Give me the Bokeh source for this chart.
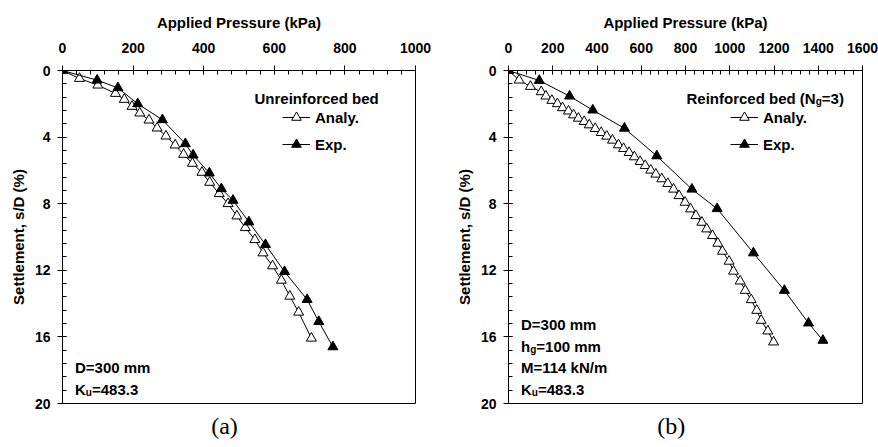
from bokeh.plotting import figure
from bokeh.layouts import row
from bokeh.models import Range1d, SingleIntervalTicker, Legend, LegendItem, Label, Title
from bokeh.embed import file_html
from bokeh.resources import INLINE

# ---------------- data ----------------
# (a) Unreinforced bed
a_anal_p = [0, 48, 100, 150, 175, 197, 219, 245, 268, 293, 319, 343, 368, 395, 417,
            444, 469, 494, 518, 545, 568, 595, 620, 644, 669, 705]
a_anal_s = [0, 0.48, 0.88, 1.38, 1.74, 2.16, 2.56, 2.98, 3.46, 3.94, 4.48, 5.04, 5.58,
            6.12, 6.72, 7.40, 8.00, 8.74, 9.44, 10.16, 10.96, 11.74, 12.60, 13.56, 14.52, 16.08]
a_exp_p = [0, 98, 157, 213, 283, 348, 370, 416, 450, 483, 528, 575, 629, 693, 726, 766]
a_exp_s = [0, 0.58, 1.04, 2.0, 2.96, 4.4, 5.08, 6.16, 7.1, 7.8, 9.1, 10.46, 12.08, 13.76, 15.08, 16.6]

# (b) Reinforced bed (Ng=3)
b_anal_p = [0, 48, 99, 148, 169, 196, 221, 244, 271, 294, 316, 342, 365, 392, 419, 444,
            470, 497, 520, 545, 569, 595, 618, 643, 666, 693, 720, 746, 771, 798, 823,
            847, 874, 896, 922, 946, 967, 997, 1017, 1047, 1070, 1097, 1122, 1142, 1172, 1198]
b_anal_s = [0, 0.58, 0.96, 1.28, 1.54, 1.80, 2.00, 2.24, 2.44, 2.67, 2.87, 3.07, 3.27, 3.49,
            3.73, 3.95, 4.19, 4.47, 4.69, 4.93, 5.19, 5.47, 5.71, 5.99, 6.23, 6.51, 6.79,
            7.13, 7.52, 7.92, 8.32, 8.72, 9.12, 9.52, 9.92, 10.38, 10.86, 11.46, 12.06,
            12.65, 13.21, 13.77, 14.41, 15.01, 15.65, 16.31]
b_exp_p = [0, 139, 276, 381, 524, 670, 829, 943, 1107, 1247, 1356, 1421]
b_exp_s = [0, 0.6, 1.54, 2.38, 3.47, 5.13, 7.13, 8.30, 10.96, 13.21, 15.17, 16.21]

x_label = "Applied Pressure (kPa)"
y_label = "Settlement, s/D (%)"
series_names = ["Analy.", "Exp."]

FONT = "Liberation Sans"
SERIF = "Liberation Serif"

# Arial/Liberation Sans Bold advance widths (per 1000 em)
W = {'D': 722, '=': 584, '0': 556, '1': 556, '2': 556, '3': 556, '4': 556, '8': 556,
     '.': 278, ' ': 278, 'm': 889, 'K': 722, 'u': 611, 'h': 611, 'g': 611, 'M': 833,
     'k': 556, 'N': 722, '/': 278, 'R': 722, 'e': 556, 'i': 278, 'n': 611, 'f': 333,
     'o': 611, 'r': 389, 'c': 556, 'd': 611, 'b': 611, '(': 333, ')': 333, 'U': 722}


def twidth(t, size):
    return sum(W.get(c, 556) for c in t) * size / 1000.0


def rich_text(p, x, y, segments, size=15):
    """segments: list of (text, is_sub)"""
    cx = x
    for t, sub in segments:
        fs = 10 if sub else size
        dy = -3 if sub else 0
        p.add_layout(Label(x=cx, y=y + dy, x_units="screen", y_units="screen", text=t,
                           text_font=FONT, text_font_style="bold",
                           text_font_size=f"{fs}px", text_baseline="alphabetic",
                           text_align="left", text_color="black"))
        cx += twidth(t, fs)


def make_panel(xmax, border_left, border_right, width, ap, as_, ep, es,
               title_segs, title_x, legend_x, notes, tag):
    p = figure(width=width, height=447, x_range=Range1d(0, xmax), y_range=Range1d(20, 0),
               x_axis_location="above", output_backend="svg", toolbar_location=None,
               min_border_left=border_left, min_border_right=border_right,
               min_border_top=70, min_border_bottom=44)
    p.grid.visible = False
    p.outline_line_color = "black"
    p.outline_line_width = 1
    p.background_fill_color = "white"
    p.border_fill_color = "white"

    p.xaxis.ticker = SingleIntervalTicker(interval=200, num_minor_ticks=5)
    p.yaxis.ticker = SingleIntervalTicker(interval=4, num_minor_ticks=5)
    for ax in (p.xaxis, p.yaxis):
        ax.axis_line_color = "black"
        ax.major_tick_line_color = "black"
        ax.minor_tick_line_color = "black"
        ax.major_tick_out = 5
        ax.major_tick_in = 4
        ax.minor_tick_out = 0
        ax.minor_tick_in = 4
        ax.major_label_text_font = FONT
        ax.major_label_text_font_style = "bold"
        ax.major_label_text_font_size = "14px"
        ax.major_label_text_color = "black"
        ax.axis_label_text_font = FONT
        ax.axis_label_text_font_style = "bold"
        ax.axis_label_text_font_size = "15px"
        ax.axis_label_text_color = "black"
    p.xaxis.axis_label = x_label
    p.yaxis.axis_label = y_label
    p.xaxis.major_label_standoff = 13
    p.xaxis.axis_label_standoff = 9
    p.yaxis.major_label_standoff = 7
    p.yaxis.axis_label_standoff = 5

    l1 = p.line(ap, as_, line_color="black", line_width=1)
    m1 = p.scatter(ap, as_, marker="triangle", size=10, fill_color="white",
                   line_color="black", line_width=1)
    l2 = p.line(ep, es, line_color="black", line_width=1)
    m2 = p.scatter(ep, es, marker="triangle", size=10, fill_color="black",
                   line_color="black", line_width=1)

    leg = Legend(items=[LegendItem(label=series_names[0], renderers=[l1, m1]),
                        LegendItem(label=series_names[1], renderers=[l2, m2])],
                 location=(legend_x, 247), padding=0, margin=0, spacing=3,
                 glyph_width=28, glyph_height=24, label_height=24, label_standoff=5,
                 border_line_color=None, background_fill_alpha=0,
                 label_text_font=FONT, label_text_font_style="bold",
                 label_text_font_size="15px", label_text_color="black")
    p.add_layout(leg)

    rich_text(p, title_x, 305.5, title_segs)
    for (yy, segs) in notes:
        rich_text(p, 12.5, yy, segs)

    tag_w = (333 + 444 + 333) * 24 / 1000.0
    p.add_layout(Title(text=tag, align="left", offset=162 - tag_w / 2,
                       text_font=SERIF, text_font_size="24px", text_font_style="normal",
                       text_color="black", vertical_align="middle", standoff=16), "below")
    return p


pa = make_panel(1000, 62, 24, 439, a_anal_p, a_anal_s, a_exp_p, a_exp_s,
                [("Unreinforced bed", False)], 192, 220,
                [(35.6, [("D=300 mm", False)]),
                 (13.6, [("K", False), ("u", True), ("=483.3", False)])], "(a)")
pb = make_panel(1600, 69, 16, 439, b_anal_p, b_anal_s, b_exp_p, b_exp_s,
                [("Reinforced bed (N", False), ("g", True), ("=3)", False)], 178, 222,
                [(78.6, [("D=300 mm", False)]),
                 (57.5, [("h", False), ("g", True), ("=100 mm", False)]),
                 (35.6, [("M=114 kN/m", False)]),
                 (14.5, [("K", False), ("u", True), ("=483.3", False)])], "(b)")

layout = row(pa, pb)
open("out.html", "w").write(file_html(layout, INLINE))
